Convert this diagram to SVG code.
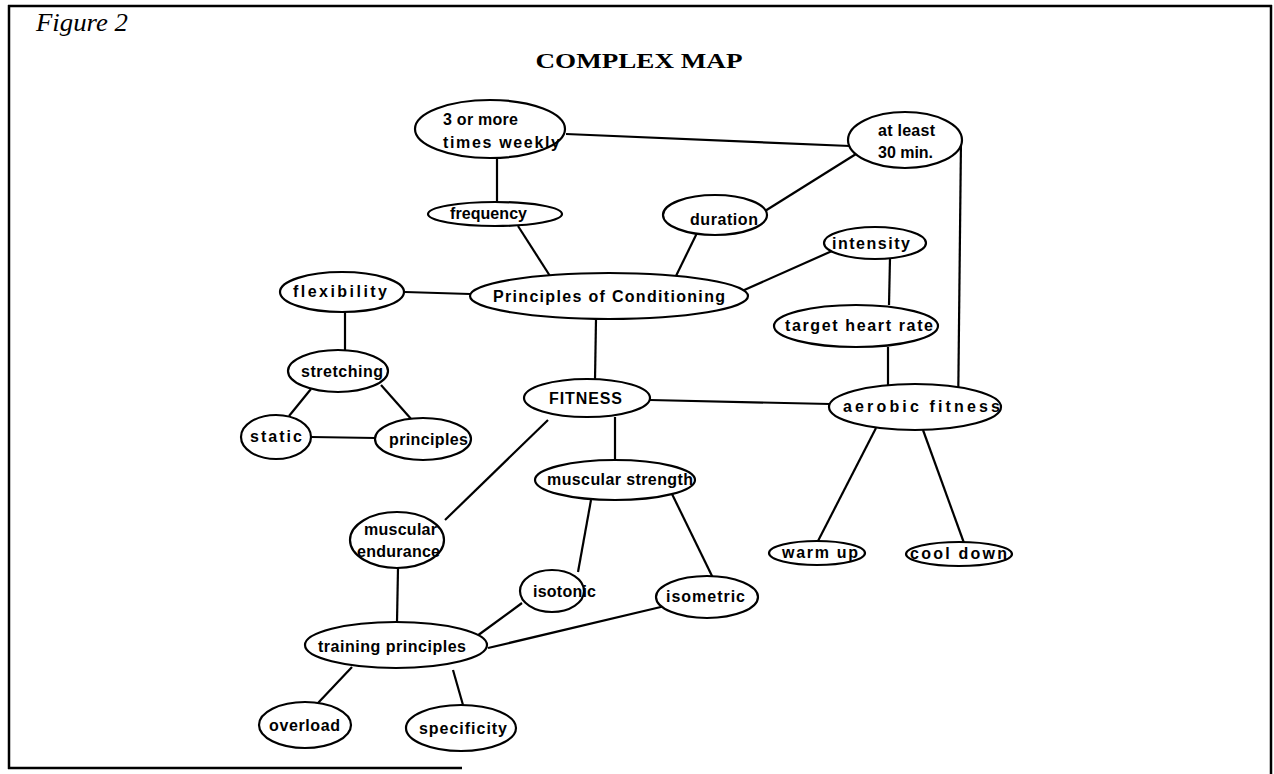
<svg xmlns="http://www.w3.org/2000/svg" width="1274" height="774" viewBox="0 0 1274 774">
<style>
.n ellipse{fill:#fff;stroke:#000;stroke-width:2.2}
.n text{font-family:"Liberation Sans",Arial,sans-serif;font-size:16px;font-weight:bold;fill:#000}
#edges line{stroke:#000;stroke-width:2.2}
.frame{stroke:#000;stroke-width:2.5;fill:none}
</style>
<rect width="1274" height="774" fill="#fff"/>
<g id="frame">
<line class="frame" x1="8" y1="6" x2="1272" y2="6"/>
<line class="frame" x1="9" y1="5" x2="9" y2="769"/>
<line class="frame" x1="8" y1="768" x2="462" y2="768"/>
<line class="frame" x1="1271" y1="5" x2="1271" y2="774"/>
</g>
<text x="36" y="31" font-family="'Liberation Serif',serif" font-style="italic" font-size="25" textLength="92" lengthAdjust="spacingAndGlyphs">Figure 2</text>
<text x="639" y="68" text-anchor="middle" font-family="'Liberation Serif',serif" font-weight="bold" font-size="22" textLength="207" lengthAdjust="spacingAndGlyphs">COMPLEX MAP</text>
<g id="edges">
<line x1="497" y1="157" x2="497" y2="203"/>
<line x1="566" y1="134" x2="850" y2="146"/>
<line x1="856" y1="154" x2="765" y2="211"/>
<line x1="518" y1="226" x2="550" y2="276"/>
<line x1="697" y1="233" x2="675" y2="278"/>
<line x1="832" y1="251" x2="742" y2="291"/>
<line x1="890" y1="258" x2="889" y2="305"/>
<line x1="405" y1="292" x2="470" y2="294"/>
<line x1="345" y1="312" x2="345" y2="350"/>
<line x1="596" y1="319" x2="595" y2="380"/>
<line x1="888" y1="347" x2="888" y2="386"/>
<line x1="961" y1="140" x2="958" y2="418"/>
<line x1="311" y1="389" x2="289" y2="416"/>
<line x1="381" y1="385" x2="412" y2="420"/>
<line x1="311" y1="437" x2="376" y2="438"/>
<line x1="650" y1="400" x2="830" y2="404"/>
<line x1="548" y1="420" x2="445" y2="520"/>
<line x1="615" y1="417" x2="615" y2="461"/>
<line x1="591" y1="500" x2="578" y2="572"/>
<line x1="672" y1="494" x2="713" y2="578"/>
<line x1="876" y1="428" x2="818" y2="541"/>
<line x1="923" y1="430" x2="964" y2="543"/>
<line x1="398" y1="568" x2="397" y2="622"/>
<line x1="522" y1="603" x2="477" y2="636"/>
<line x1="665" y1="606" x2="488" y2="648"/>
<line x1="352" y1="667" x2="318" y2="703"/>
<line x1="453" y1="670" x2="463" y2="705"/>
</g>
<g id="n-weekly" class="n"><ellipse cx="490" cy="129" rx="75" ry="29"/><text x="443" y="125" textLength="75">3 or more</text><text x="443" y="148" textLength="117">times weekly</text></g>
<g id="n-atleast" class="n"><ellipse cx="905" cy="140" rx="57" ry="28"/><text x="878" y="136" textLength="57">at least</text><text x="878" y="158" textLength="55">30 min.</text></g>
<g id="n-frequency" class="n"><ellipse cx="495" cy="214" rx="67" ry="12"/><text x="450" y="219" textLength="77">frequency</text></g>
<g id="n-duration" class="n"><ellipse cx="715" cy="215" rx="52" ry="20"/><text x="690" y="225" textLength="68">duration</text></g>
<g id="n-intensity" class="n"><ellipse cx="875" cy="243" rx="51" ry="16"/><text x="832" y="249" textLength="78">intensity</text></g>
<g id="n-conditioning" class="n"><ellipse cx="609" cy="296" rx="139" ry="23"/><text x="493" y="302" textLength="232">Principles of Conditioning</text></g>
<g id="n-flexibility" class="n"><ellipse cx="342" cy="292" rx="62" ry="20"/><text x="293" y="297" textLength="94">flexibility</text></g>
<g id="n-heartrate" class="n"><ellipse cx="856" cy="326" rx="82" ry="21"/><text x="785" y="331" textLength="148">target heart rate</text></g>
<g id="n-stretching" class="n"><ellipse cx="338" cy="371" rx="50" ry="21"/><text x="301" y="377" textLength="82">stretching</text></g>
<g id="n-fitness" class="n"><ellipse cx="587" cy="398" rx="63" ry="19"/><text x="549" y="404" textLength="73" font-size="17">FITNESS</text></g>
<g id="n-aerobic" class="n"><ellipse cx="915" cy="407" rx="86" ry="23"/><text x="843" y="412" textLength="157">aerobic fitness</text></g>
<g id="n-static" class="n"><ellipse cx="276" cy="437" rx="35" ry="22"/><text x="250" y="442" textLength="52">static</text></g>
<g id="n-principles" class="n"><ellipse cx="423" cy="439" rx="48" ry="21"/><text x="389" y="445" textLength="79">principles</text></g>
<g id="n-strength" class="n"><ellipse cx="615" cy="480" rx="80" ry="20"/><text x="547" y="485" textLength="146">muscular strength</text></g>
<g id="n-endurance" class="n"><ellipse cx="397" cy="540" rx="47" ry="28"/><text x="364" y="535" textLength="73">muscular</text><text x="357" y="557" textLength="83">endurance</text></g>
<g id="n-warmup" class="n"><ellipse cx="817" cy="553" rx="48" ry="12"/><text x="782" y="558" textLength="76">warm up</text></g>
<g id="n-cooldown" class="n"><ellipse cx="959" cy="554" rx="53" ry="12"/><text x="910" y="559" textLength="97">cool down</text></g>
<g id="n-isotonic" class="n"><ellipse cx="552" cy="591" rx="32" ry="21"/><text x="533" y="597" textLength="63">isotonic</text></g>
<g id="n-isometric" class="n"><ellipse cx="707" cy="597" rx="51" ry="21"/><text x="666" y="602" textLength="79">isometric</text></g>
<g id="n-training" class="n"><ellipse cx="396" cy="645" rx="91" ry="23"/><text x="318" y="652" textLength="148">training principles</text></g>
<g id="n-overload" class="n"><ellipse cx="305" cy="725" rx="46" ry="23"/><text x="269" y="731" textLength="71">overload</text></g>
<g id="n-specificity" class="n"><ellipse cx="461" cy="728" rx="55" ry="23"/><text x="419" y="734" textLength="88">specificity</text></g>
</svg>
